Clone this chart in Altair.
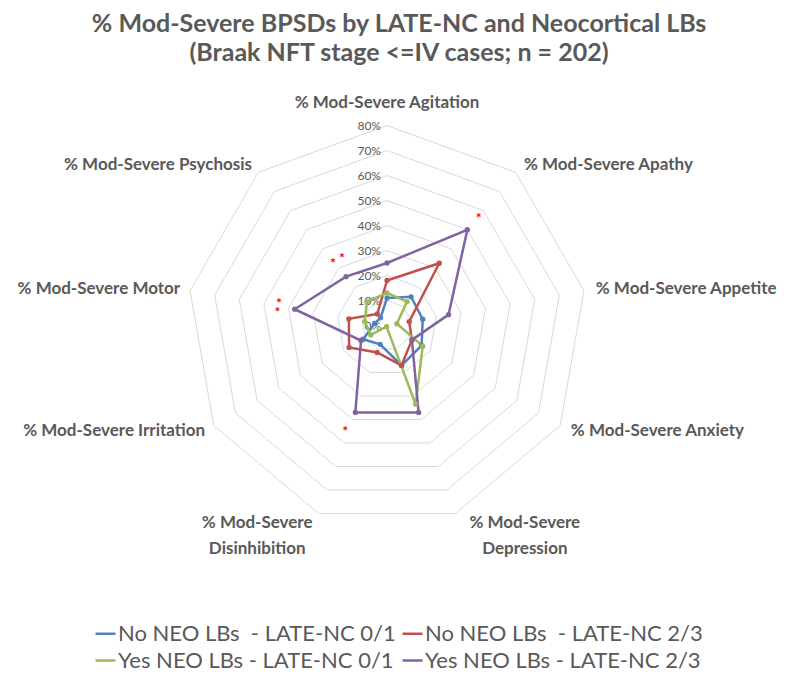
import math
import altair as alt
import pandas as pd

# ---------------- data ----------------
categories = [
    "% Mod-Severe Agitation", "% Mod-Severe Apathy", "% Mod-Severe Appetite",
    "% Mod-Severe Anxiety", "% Mod-Severe Depression", "% Mod-Severe Disinhibition",
    "% Mod-Severe Irritation", "% Mod-Severe Motor", "% Mod-Severe Psychosis",
]
series_names = [
    "No NEO LBs \u00a0- LATE-NC 0/1",
    "No NEO LBs \u00a0- LATE-NC 2/3",
    "Yes NEO LBs - LATE-NC 0/1",
    "Yes NEO LBs - LATE-NC 2/3",
]
no_neo_late01 = [11, 15, 14.5, 16, 17, 8, 11, 5, 4]
no_neo_late23 = [18, 32.5, 9, 11.5, 17, 11.5, 17.5, 15.5, 6]
yes_neo_late01 = [13, 12.5, 4, 16.5, 33.5, 0.5, 7.5, 9, 12.5]
yes_neo_late23 = [25, 50, 25, 11.5, 37, 37, 12, 37.5, 25.5]
series_values = [no_neo_late01, no_neo_late23, yes_neo_late01, yes_neo_late23]
colors = ["#4F81BD", "#C0504D", "#9BBB59", "#8064A2"]

tick_levels = [0, 10, 20, 30, 40, 50, 60, 70, 80]
tick_labels = ["0%", "10%", "20%", "30%", "40%", "50%", "60%", "70%", "80%"]

# significance asterisks: (angle in degrees, radius in %)
star_angles = [40, 320, 327, 283, 278, 202]
star_radius = [57, 33.6, 33, 44.3, 44.2, 44.5]

title_text = "% Mod-Severe BPSDs by LATE-NC and Neocortical LBs\n(Braak NFT stage <=IV cases; n = 202)"

# ---------------- geometry helpers ----------------
n = len(categories)
angles = [360.0 * i / n for i in range(n)]


def polar(angle_deg, r):
    a = math.radians(angle_deg)
    return r * math.sin(a), r * math.cos(a)


# grid rings
grid_rows = []
for lv in tick_levels[1:]:
    for k in range(n + 1):
        x, y = polar(angles[k % n], lv)
        grid_rows.append({"level": lv, "k": k, "x": x, "y": y})
grid_df = pd.DataFrame(grid_rows)

tick_df = pd.DataFrame({"x": [0] * len(tick_levels), "y": tick_levels, "label": tick_labels})

# series
line_rows = []
point_rows = []
for name, vals in zip(series_names, series_values):
    for k in range(n + 1):
        x, y = polar(angles[k % n], vals[k % n])
        line_rows.append({"series": name, "k": k, "x": x, "y": y})
        if k < n:
            point_rows.append({"series": name, "k": k, "x": x, "y": y})
line_df = pd.DataFrame(line_rows)
point_df = pd.DataFrame(point_rows)

# category labels
LABEL_R = 84
lab_rows = []
for cat, ang in zip(categories, angles):
    x, y = polar(ang, LABEL_R)
    s = math.sin(math.radians(ang))
    c = math.cos(math.radians(ang))
    if c < -0.9:
        grp = "bottom_right" if s > 0 else "bottom_left"
        text = cat.replace("Severe ", "Severe\n")
    elif abs(s) < 0.2:
        grp = "top"
        text = cat
    elif s > 0:
        grp = "left"
        text = cat
    else:
        grp = "right"
        text = cat
    lab_rows.append({"x": x, "y": y, "label": text, "grp": grp})
lab_df = pd.DataFrame(lab_rows)

star_rows = []
for a, r in zip(star_angles, star_radius):
    x, y = polar(a, r)
    star_rows.append({"x": x, "y": y, "t": "*"})
star_df = pd.DataFrame(star_rows)

# ---------------- scales ----------------
W, H = 780, 664
PX = 2.5  # pixels per percent
CX, CY = 379, 317.5
xscale = alt.Scale(domain=[-CX / PX, (W - CX) / PX], nice=False, zero=False)
yscale = alt.Scale(domain=[-(H - CY) / PX, CY / PX], nice=False, zero=False)
X = alt.X("x:Q", scale=xscale, axis=None)
Y = alt.Y("y:Q", scale=yscale, axis=None)

FONT = "Lato"
GREY = "#595959"

grid = alt.Chart(grid_df).mark_line(color="#D9D9D9", strokeWidth=1).encode(
    x=X, y=Y, detail="level:N", order="k:Q"
)

ticks = alt.Chart(tick_df).mark_text(
    align="right", baseline="middle", dx=-6, font=FONT, fontSize=12, color=GREY
).encode(x=X, y=Y, text="label:N")

color = alt.Color(
    "series:N",
    scale=alt.Scale(domain=series_names, range=colors),
    legend=alt.Legend(
        title=None,
        orient="none",
        legendX=86,
        legendY=614,
        columns=2,
        direction="horizontal",
        labelFont=FONT,
        labelFontSize=22,
        labelColor=GREY,
        labelLimit=0,
        symbolType="stroke",
        symbolStrokeWidth=2.5,
        symbolSize=400,
        rowPadding=4,
        columnPadding=1,
        labelOffset=1,
    ),
)

lines = alt.Chart(line_df).mark_line(strokeWidth=2.5).encode(
    x=X, y=Y, color=color, detail="series:N", order="k:Q"
)
points = alt.Chart(point_df).mark_circle(size=28, opacity=1).encode(
    x=X, y=Y, color=alt.Color("series:N", scale=alt.Scale(domain=series_names, range=colors), legend=None)
)

lab_common = dict(font=FONT, fontSize=17, fontWeight="bold", color=GREY)
lab_left = alt.Chart(lab_df).transform_filter(alt.datum.grp == "left").mark_text(
    align="left", baseline="middle", dx=2, **lab_common
).encode(x=X, y=Y, text="label:N")
lab_right = alt.Chart(lab_df).transform_filter(alt.datum.grp == "right").mark_text(
    align="right", baseline="middle", dx=0, **lab_common
).encode(x=X, y=Y, text="label:N")
lab_top = alt.Chart(lab_df).transform_filter(alt.datum.grp == "top").mark_text(
    align="center", baseline="bottom", dy=-4, **lab_common
).encode(x=X, y=Y, text="label:N")
lab_br = alt.Chart(lab_df).transform_filter(alt.datum.grp == "bottom_right").mark_text(
    align="center", baseline="middle", dx=66, dy=0, lineBreak="\n", lineHeight=26, **lab_common
).encode(x=X, y=Y, text="label:N")
lab_bl = alt.Chart(lab_df).transform_filter(alt.datum.grp == "bottom_left").mark_text(
    align="center", baseline="middle", dx=-58, dy=0, lineBreak="\n", lineHeight=26, **lab_common
).encode(x=X, y=Y, text="label:N")

stars = alt.Chart(star_df).mark_text(
    align="center", baseline="middle", dy=3, font=FONT, fontSize=14, fontWeight="bold", color="#FF0000"
).encode(x=X, y=Y, text="t:N")

title = alt.Chart(pd.DataFrame({"t": [title_text]})).mark_text(
    align="center", baseline="alphabetic", lineBreak="\n", lineHeight=29,
    font=FONT, fontSize=25, fontWeight="bold", color=GREY,
).encode(x=alt.value(391), y=alt.value(24), text="t:N")

chart = alt.layer(
    grid, ticks, lines, points, lab_left, lab_right, lab_top, lab_br, lab_bl, stars, title
).properties(
    width=W, height=H, padding=0, autosize=alt.AutoSizeParams(type="none")
).configure_view(stroke=None)

chart.save("out.html", embed_options={"renderer": "svg", "actions": False})
